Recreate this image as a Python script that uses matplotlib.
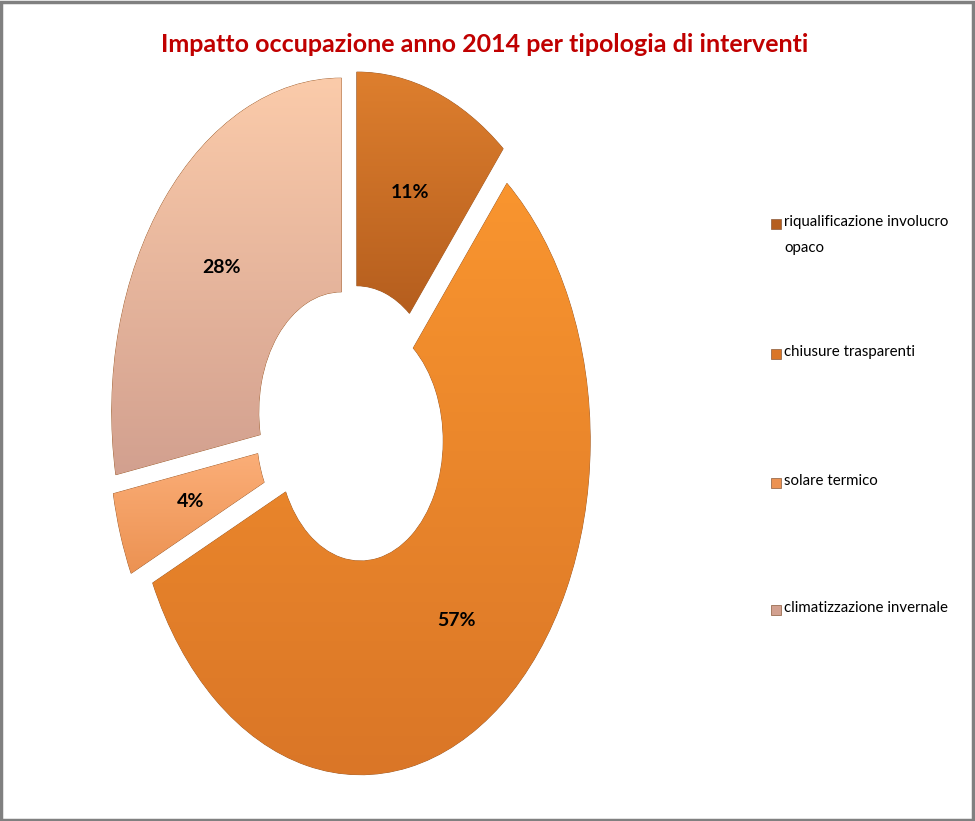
import matplotlib.pyplot as plt
import numpy as np
from matplotlib.colors import LinearSegmentedColormap
from matplotlib.patches import Rectangle

title = "Impatto occupazione anno 2014 per tipologia di interventi"
labels = ["riqualificazione involucro\nopaco", "chiusure trasparenti",
          "solare termico", "climatizzazione invernale"]
values = [11, 57, 4, 28]
top_colors = ["#DE7F2E", "#F9952F", "#FBAE78", "#FBCBAA"]
bottom_colors = ["#B55E1E", "#DA7627", "#EC9252", "#D2A08F"]

plt.rcParams["font.family"] = ["Lato", "DejaVu Sans"]

fig = plt.figure(figsize=(9.75, 8.21), dpi=100)

# ellipse: rx ~ 230 px, ry ~ 334 px, centre ~ (352, 425) from top-left
ax = fig.add_axes([0.0784, 0.0146, 0.5654, 0.9357])
wedges, texts, autotexts = ax.pie(
    values, startangle=90, counterclock=False, explode=[0.06] * 4,
    radius=1.0, autopct="%d%%", pctdistance=0.68,
    wedgeprops=dict(width=0.64, edgecolor="#9a5a2a", linewidth=0.6),
    textprops=dict(fontsize=14, fontweight="bold", color="black"))
ax.set_aspect("auto")

# vertical gradient inside each wedge
grad = np.linspace(1, 0, 256).reshape(-1, 1)
for w, c_top, c_bot in zip(wedges, top_colors, bottom_colors):
    cmap = LinearSegmentedColormap.from_list("g", [c_bot, c_top])
    w.set_facecolor(c_top)
    bb = w.get_path().get_extents()
    img = ax.imshow(grad, cmap=cmap, aspect="auto", vmin=0, vmax=1,
                    extent=[bb.x0, bb.x1, bb.y0, bb.y1], zorder=w.get_zorder() + 0.1)
    img.set_clip_path(w)
for t in autotexts:
    t.set_zorder(5)
ax.set_xlim(-1.2, 1.2)
ax.set_ylim(-1.15, 1.15)
ax.axis("off")

fig.text(0.497, 0.946, title, ha="center", va="center", fontsize=18,
         fontweight="bold", color="#C00000")

# legend
leg_y = [224, 354, 483, 610]
for lab, y, c_top, c_bot in zip(labels, leg_y, top_colors, bottom_colors):
    yf = 1 - y / 821
    fig.patches.append(Rectangle((771 / 975, yf - 5 / 821), 10 / 975, 10 / 821,
                                 transform=fig.transFigure, facecolor=c_bot,
                                 edgecolor="#8a5a3a", linewidth=0.5))
    fig.text(784 / 975, yf + 9 / 821, lab, ha="left", va="top", fontsize=10.8,
             color="black", linespacing=2.1)

# outer border
fig.patches.append(Rectangle((0.001, 0.001), 0.997, 0.997, transform=fig.transFigure,
                             fill=False, edgecolor="#808080", linewidth=2.5))

fig.savefig("out.png", dpi=100)
